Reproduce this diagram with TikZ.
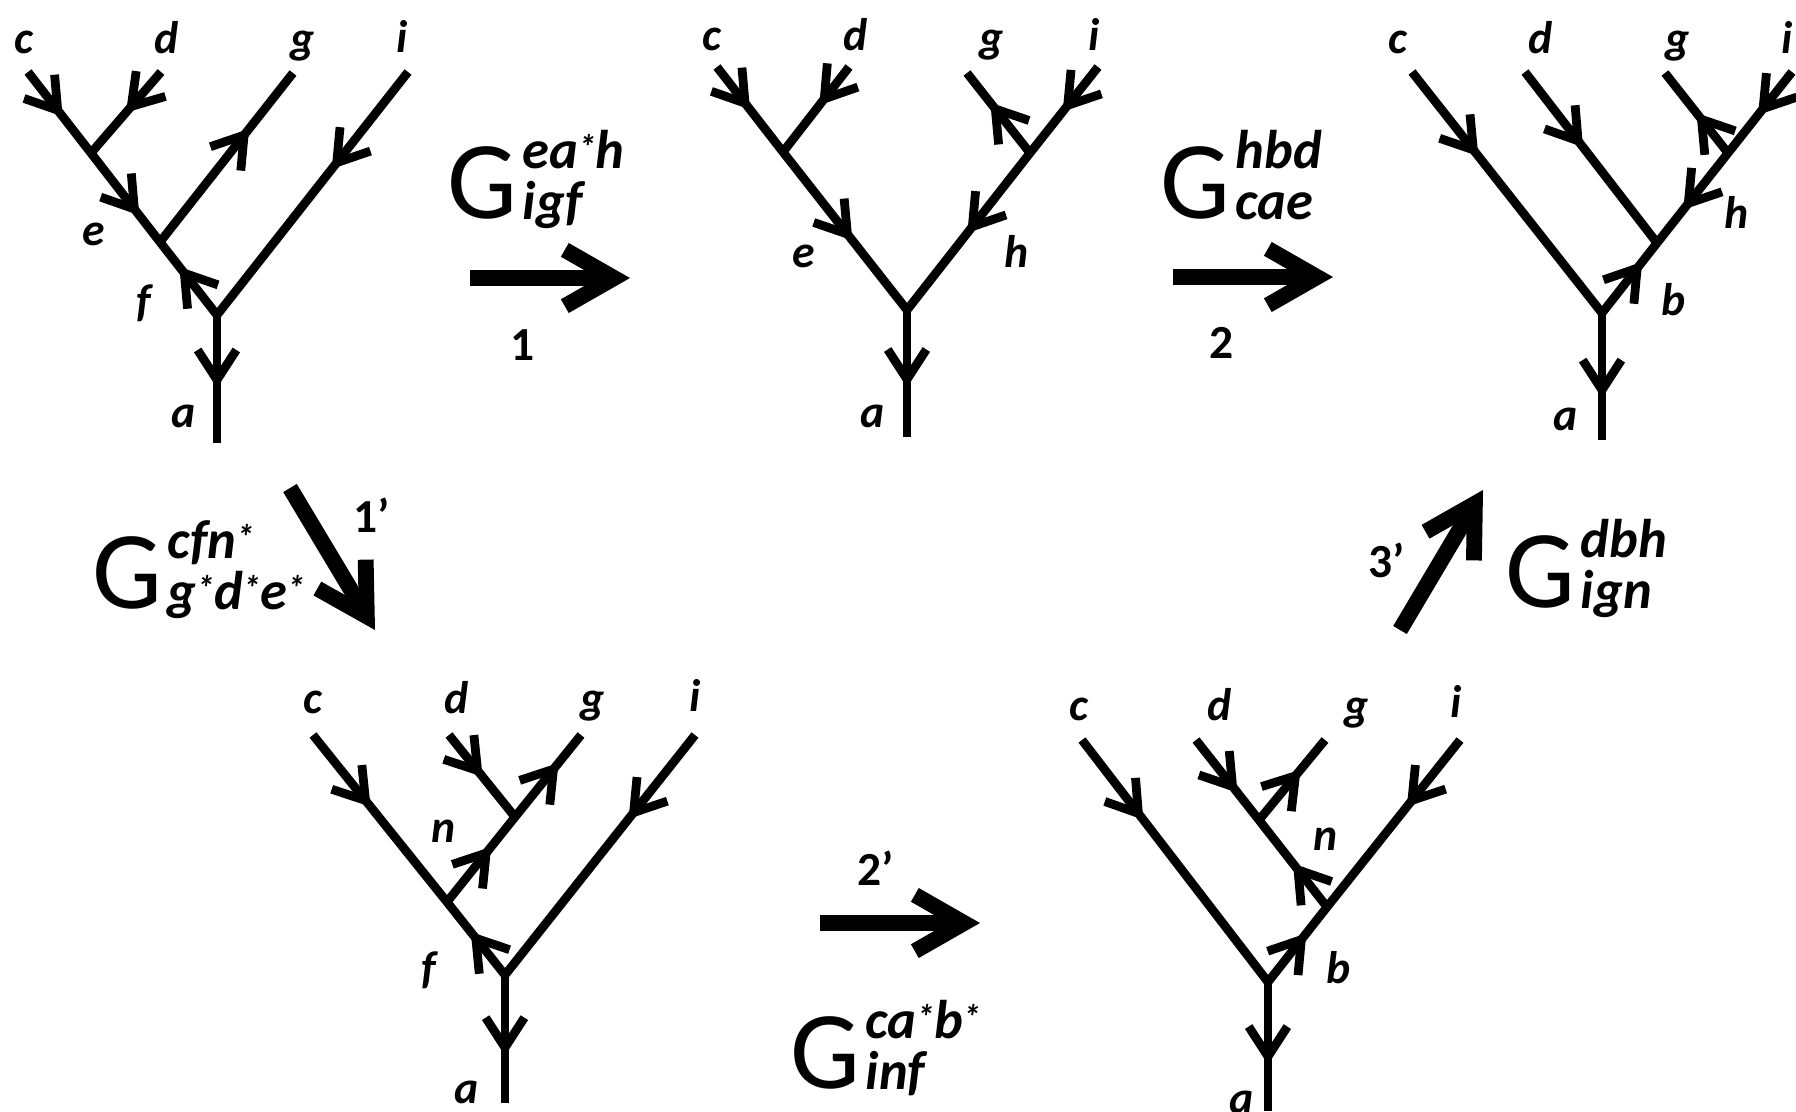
\documentclass[tikz,border=0pt]{standalone}
\usepackage{fontspec}
\setmainfont{Carlito}
\usetikzlibrary{arrows.meta,decorations.markings}

\newcommand{\st}{\raisebox{2.5pt}{\fontsize{10}{10}\selectfont*}}
\newcommand{\Gop}[2]{{\fontsize{31.5}{32}\selectfont G}\kern1.5pt%
  {\fontsize{15.5}{16}\selectfont\bfseries\itshape
   \ooalign{\raisebox{14pt}{#1}\hfil\cr\raisebox{-0.5pt}{#2}\hfil\cr}}}

\begin{document}
\begin{tikzpicture}[x=0.01cm,y=-0.01cm,
    edge/.style={line width=2.5pt},
    mid/.style={postaction={decorate,decoration={markings,
      mark=at position #1 with {\arrow{Straight Barb[length=8.5pt,width=11pt]}}}}},
    move/.style={line width=4.5pt,-{Straight Barb[length=14pt,width=16pt]}},
    lbl/.style={inner sep=0pt,anchor=base,font=\fontsize{13}{13}\selectfont\bfseries\itshape},
    num/.style={inner sep=0pt,anchor=base,font=\fontsize{13.5}{14}\selectfont\bfseries},
    gop/.style={inner sep=0pt,anchor=base west}]
\useasboundingbox (0,0) rectangle (1796,1111);

% top left
\coordinate (c1) at (28,72);
\coordinate (d1) at (161,72);
\coordinate (g1) at (293,73);
\coordinate (i1) at (408,72);
\coordinate (u1) at (91,153);
\coordinate (v1) at (160,242);
\coordinate (r1) at (217,315);
\coordinate (a1) at (217,443);
\draw[edge,mid=0.55] (c1) -- (u1);
\draw[edge,mid=0.5] (d1) -- (u1);
\draw[edge,mid=0.7] (u1) -- (v1);
\draw[edge,mid=0.67] (v1) -- (g1);
\draw[edge,mid=0.4] (i1) -- (r1);
\draw[edge,mid=0.66] (r1) -- (v1);
\draw[edge,mid=0.57] (r1) -- (a1);
\node[lbl] (lc1) at (24,53) {c};
\node[lbl] (ld1) at (167,53) {d};
\node[lbl] (lg1) at (303,53) {g};
\node[lbl] (li1) at (402,52) {i};
\node[lbl] (le1) at (94,245) {e};
\node[lbl] (lf1) at (144,316) {f};
\node[lbl] (la1) at (184,427) {a};

% top middle
\coordinate (c2) at (717,67);
\coordinate (d2) at (849,67);
\coordinate (g2) at (967,73);
\coordinate (i2) at (1098,67);
\coordinate (u2) at (783,152);
\coordinate (w2) at (1030,153);
\coordinate (r2) at (907,310);
\coordinate (a2) at (907,437);
\draw[edge,mid=0.5] (c2) -- (u2);
\draw[edge,mid=0.45] (d2) -- (u2);
\draw[edge,mid=0.56] (u2) -- (r2);
\draw[edge,mid=0.52] (i2) -- (w2);
\draw[edge,mid=0.63] (w2) -- (g2);
\draw[edge,mid=0.51] (w2) -- (r2);
\draw[edge,mid=0.61] (r2) -- (a2);
\node[lbl] (lc2) at (712,50) {c};
\node[lbl] (ld2) at (856,50) {d};
\node[lbl] (lg2) at (992,52) {g};
\node[lbl] (li2) at (1094,50) {i};
\node[lbl] (le2) at (804,267) {e};
\node[lbl] (lh2) at (1017,267) {h};
\node[lbl] (la2) at (873,427) {a};

% top right
\coordinate (c3) at (1412,72);
\coordinate (d3) at (1525,72);
\coordinate (g3) at (1665,73);
\coordinate (i3) at (1792,72);
\coordinate (w3) at (1728,153);
\coordinate (v3) at (1657,243);
\coordinate (r3) at (1602,313);
\coordinate (a3) at (1602,440);
\draw[edge,mid=0.35] (c3) -- (r3);
\draw[edge,mid=0.44] (d3) -- (v3);
\draw[edge,mid=0.53] (i3) -- (w3);
\draw[edge,mid=0.5] (w3) -- (g3);
\draw[edge,mid=0.63] (w3) -- (v3);
\draw[edge,mid=0.73] (r3) -- (v3);
\draw[edge,mid=0.67] (r3) -- (a3);
\node[lbl] (lc3) at (1398,53) {c};
\node[lbl] (ld3) at (1541,53) {d};
\node[lbl] (lg3) at (1678,53) {g};
\node[lbl] (li3) at (1787,53) {i};
\node[lbl] (lh3) at (1737,228) {h};
\node[lbl] (lb3) at (1674,315) {b};
\node[lbl] (la3) at (1566,430) {a};

% bottom left
\coordinate (c4) at (313,735);
\coordinate (d4) at (449,735);
\coordinate (g4) at (581,735);
\coordinate (i4) at (695,735);
\coordinate (u4) at (515,817);
\coordinate (v4) at (447,902);
\coordinate (r4) at (505,975);
\coordinate (a4) at (505,1103);
\draw[edge,mid=0.43] (c4) -- (v4);
\draw[edge,mid=0.51] (d4) -- (u4);
\draw[edge,mid=0.66] (u4) -- (g4);
\draw[edge,mid=0.35] (i4) -- (r4);
\draw[edge,mid=0.65] (v4) -- (u4);
\draw[edge,mid=0.59] (r4) -- (v4);
\draw[edge,mid=0.63] (r4) -- (a4);
\node[lbl] (lc4) at (313,713) {c};
\node[lbl] (ld4) at (457,713) {d};
\node[lbl] (lg4) at (593,713) {g};
\node[lbl] (li4) at (695,711) {i};
\node[lbl] (ln4) at (444,842) {n};
\node[lbl] (lf4) at (429,983) {f};
\node[lbl] (la4) at (467,1103) {a};

% bottom right
\coordinate (c5) at (1082,740);
\coordinate (d5) at (1196,740);
\coordinate (g5) at (1325,740);
\coordinate (i5) at (1460,740);
\coordinate (u5) at (1259,820);
\coordinate (v5) at (1327,907);
\coordinate (r5) at (1268,982);
\coordinate (a5) at (1268,1111);
\draw[edge,mid=0.33] (c5) -- (r5);
\draw[edge,mid=0.66] (d5) -- (u5);
\draw[edge,mid=0.63] (u5) -- (g5);
\draw[edge,mid=0.4] (i5) -- (v5);
\draw[edge,mid=0.5] (v5) -- (u5);
\draw[edge,mid=0.65] (r5) -- (v5);
\draw[edge,mid=0.64] (r5) -- (a5);
\node[lbl] (lc5) at (1079,720) {c};
\node[lbl] (ld5) at (1220,720) {d};
\node[lbl] (lg5) at (1357,720) {g};
\node[lbl] (li5) at (1456,717) {i};
\node[lbl] (ln5) at (1326,850) {n};
\node[lbl] (lb5) at (1339,983) {b};
\node[lbl] (la5) at (1242,1113) {a};

% moves
\coordinate (s1a) at (470,278);
\coordinate (s1b) at (630,278);
\coordinate (s2a) at (1173,277);
\coordinate (s2b) at (1333,277);
\coordinate (t1a) at (290,488);
\coordinate (t1b) at (375,630);
\coordinate (t2a) at (820,923);
\coordinate (t2b) at (980,923);
\coordinate (t3a) at (1400,630);
\coordinate (t3b) at (1483,490);
\draw[move] (s1a) -- (s1b);
\draw[move] (s2a) -- (s2b);
\draw[move] (t1a) -- (t1b);
\draw[move] (t2a) -- (t2b);
\draw[move] (t3a) -- (t3b);
\node[num] (n1) at (523,360) {1};
\node[num] (n2) at (1222,358) {2};
\node[num] (n1p) at (372,532) {1'};
\node[num] (n2p) at (876,885) {2'};
\node[num] (n3p) at (1387,577) {3'};
\node[gop] (G1) at (447,218) {\Gop{ea\st h}{igf}};
\node[gop] (G2) at (1160,218) {\Gop{hbd}{cae}};
\node[gop] (G1p) at (92,608) {\Gop{cfn\st}{g\st d\st e\st}};
\node[gop] (G2p) at (790,1088) {\Gop{ca\st b\st}{inf}};
\node[gop] (G3p) at (1505,607) {\Gop{dbh}{ign}};
\end{tikzpicture}
\end{document}
